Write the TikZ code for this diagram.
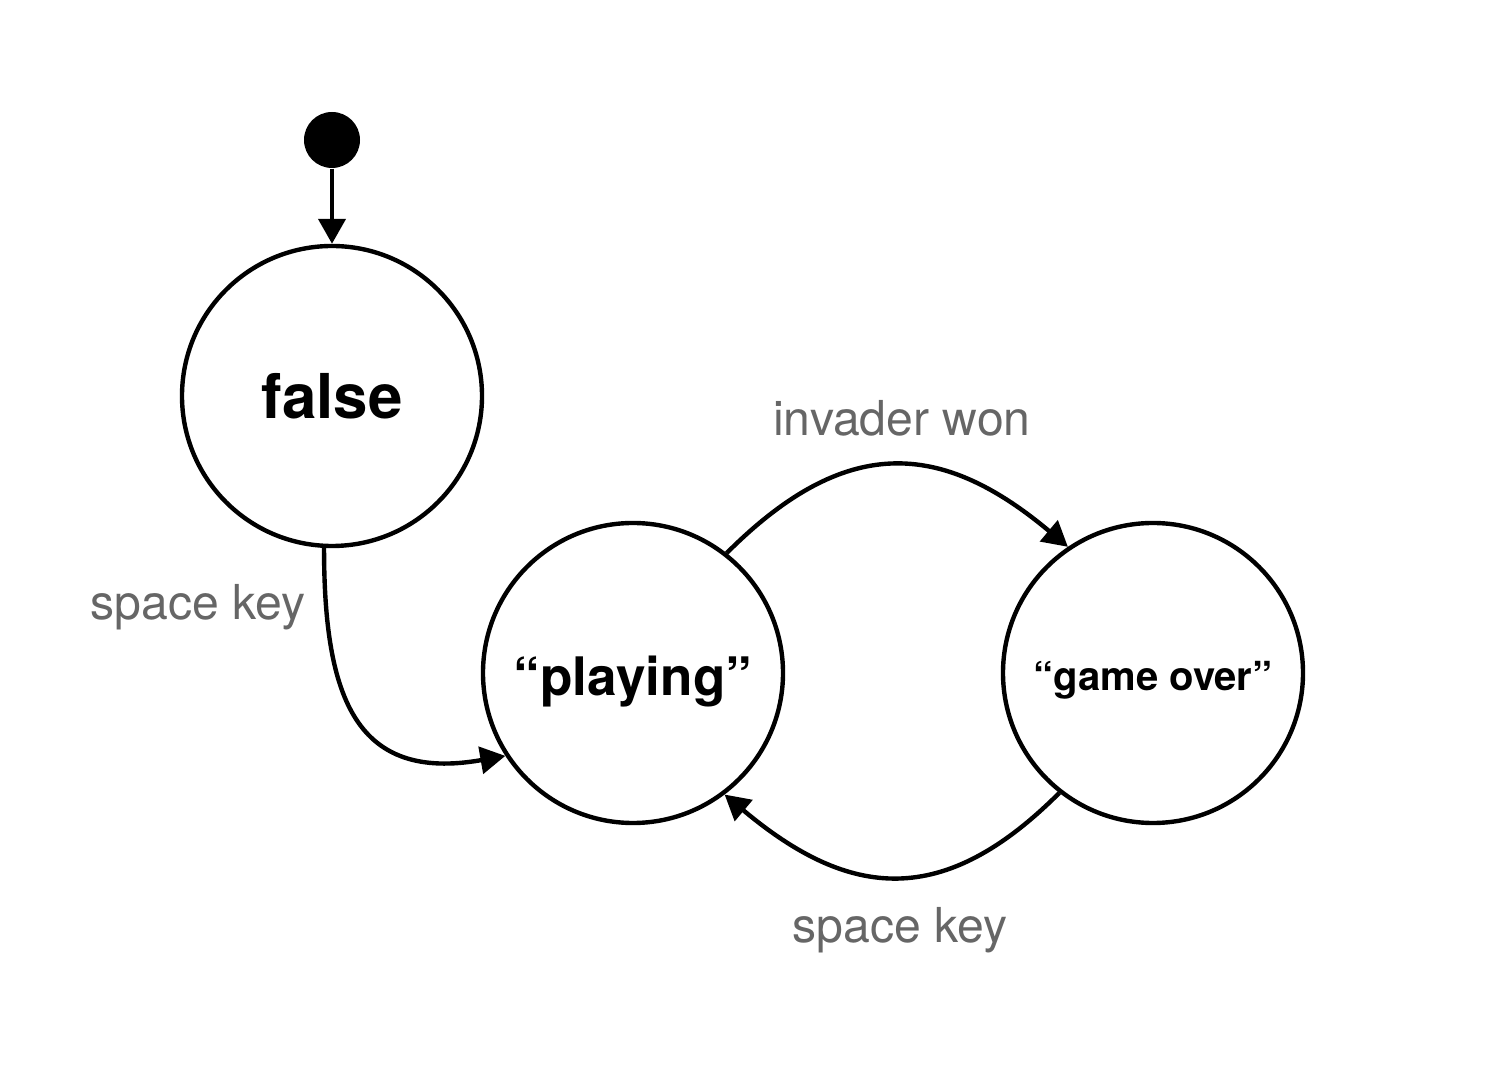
\documentclass[tikz,border=0pt]{standalone}
\usepackage{fontspec}
\setmainfont{TeX Gyre Heros}
\usepackage{tikz}
\usetikzlibrary{positioning, arrows.meta}
\usepackage{xcolor}
\definecolor{labelgray}{HTML}{666666}

\begin{document}
\begin{tikzpicture}[state/.style={circle,draw,line width=1.25pt,minimum size=3cm,inner sep=0pt},
    start/.style={circle,fill=black,minimum size=0.56cm,inner sep=0pt},
    edgelabel/.style={text=labelgray,font=\fontsize{13.7}{16}\selectfont},
    trans/.style={line width=1.25pt,-{Triangle[length=0.25cm,width=0.27cm]}}]
    \useasboundingbox (0,0) rectangle (14.92,10.68);

    % States
    \node[start] (init) at (3.32,9.28) {};
    \node[state, font=\bfseries\fontsize{17.6}{20}\selectfont] (false) at (3.32,6.72) {false};
    \node[state, font=\bfseries\fontsize{15.1}{18}\selectfont] (playing) at (6.33,3.95) {\raisebox{-0.09cm}[\height][\depth]{“playing”}};
    \node[state, font=\bfseries\fontsize{11.4}{14}\selectfont] (gameover) at (11.53,3.95) {\raisebox{-0.07cm}[\height][\depth]{“game over”}};

    % Transitions
    \draw[trans] (init) -- (false);
    \draw[trans] (false.-93) to[out=-90, in=190, looseness=1.4] (playing.213);
    \draw[trans] (playing.52) to[out=45, in=140, looseness=1.25] (gameover.124);
    \draw[trans] (gameover.232) to[out=-135, in=-40, looseness=1.25] (playing.-53);

    % Labels
    \node[edgelabel] (lblstart) at (1.98,4.61) {space key};
    \node[edgelabel] (lblwon) at (9.02,6.50) {invader won};
    \node[edgelabel] (lblrestart) at (9.00,1.38) {space key};
\end{tikzpicture}
\end{document}
